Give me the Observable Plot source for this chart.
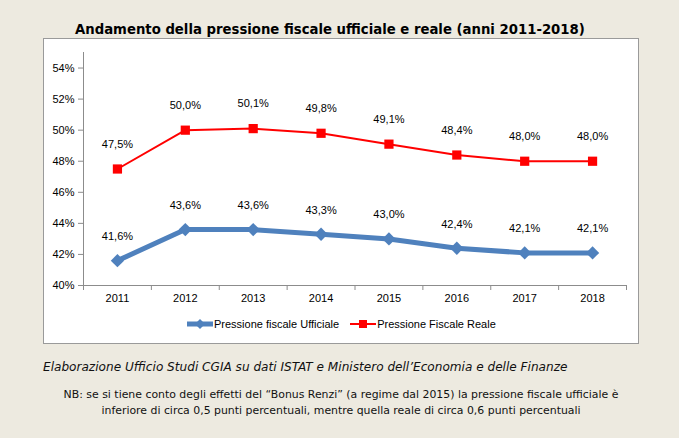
<!DOCTYPE html>
<html>
<head>
<meta charset="utf-8">
<script src="https://cdn.jsdelivr.net/npm/d3@7"></script>
<script src="https://cdn.jsdelivr.net/npm/@observablehq/plot@0.6"></script>
<style>
  html, body { margin: 0; padding: 0; }
  body { width: 679px; height: 438px; background: #edeae0; position: relative; overflow: hidden; font-family: "DejaVu Sans", sans-serif; }
  #title { position: absolute; left: 75px; top: 22px; font-family: "DejaVu Sans", sans-serif; font-weight: bold; font-size: 13.25px; color: #000; white-space: nowrap; }
  #box { position: absolute; left: 43px; top: 38px; width: 596px; height: 306px; box-sizing: border-box; background: #fff; border: 1px solid #9a9a9a; }
  #chart { position: absolute; left: 43px; top: 38px; }
  #legend { position: absolute; top: 318px; left: 187px; font-family: "Liberation Sans", sans-serif; font-size: 11px; color: #000; white-space: nowrap; display: flex; align-items: center; }
  #legend .item { display: flex; align-items: center; }
  #legend svg { display: block; }
  #source { position: absolute; left: 43px; top: 360px; font-family: "DejaVu Sans", sans-serif; font-style: italic; font-size: 12.1px; color: #111; white-space: nowrap; }
  #note { position: absolute; left: 43px; width: 596px; top: 387px; text-align: center; font-family: "DejaVu Sans", sans-serif; font-size: 10.9px; line-height: 16px; color: #111; }
</style>
</head>
<body>
<div id="title">Andamento della pressione fiscale ufficiale e reale (anni 2011-2018)</div>
<div id="box"></div>
<div id="chart"></div>
<div id="legend"></div>
<div id="source">Elaborazione Ufficio Studi CGIA su dati ISTAT e Ministero dell’Economia e delle Finanze</div>
<div id="note">NB: se si tiene conto degli effetti del “Bonus Renzi” (a regime dal 2015) la pressione fiscale ufficiale è<br>inferiore di circa 0,5 punti percentuali, mentre quella reale di circa 0,6 punti percentuali</div>
<script>
const years = [2011, 2012, 2013, 2014, 2015, 2016, 2017, 2018];
const ufficiale = [41.6, 43.6, 43.6, 43.3, 43.0, 42.4, 42.1, 42.1];
const reale = [47.5, 50.0, 50.1, 49.8, 49.1, 48.4, 48.0, 48.0];
const yTicks = [40, 42, 44, 46, 48, 50, 52, 54];
const seriesNames = ["Pressione fiscale Ufficiale", "Pressione Fiscale Reale"];
const seriesColors = ["#4f81bd", "#ff0000"];

const rows = years.map((y, i) => ({year: y, u: ufficiale[i], r: reale[i]}));
const boundaries = [years[0] - 0.5, ...years.map(y => y + 0.5)];
const pct = v => v.toFixed(1).replace(".", ",") + "%";

const chart = Plot.plot({
  width: 596,
  height: 272,
  marginLeft: 40,
  marginRight: 13,
  marginTop: 14,
  marginBottom: 25,
  style: {background: "transparent", fontFamily: "Liberation Sans, sans-serif", fontSize: "11px", color: "#000"},
  x: {domain: [years[0] - 0.5, years[years.length - 1] + 0.5]},
  y: {domain: [40, 55]},
  marks: [
    Plot.ruleY([40], {stroke: "#8c8c8c"}),
    Plot.ruleX([years[0] - 0.5], {stroke: "#8c8c8c"}),
    Plot.axisY(yTicks, {tickSize: 5, tickPadding: 4, tickFormat: d => d + "%", stroke: "#8c8c8c", fill: "#000", label: null}),
    Plot.axisX(boundaries, {tickSize: 5, tickFormat: () => "", stroke: "#8c8c8c", label: null}),
    Plot.axisX(years, {tickSize: 0, tickPadding: 9, tickFormat: d => String(d), fill: "#000", label: null}),
    Plot.line(rows, {x: "year", y: "r", stroke: seriesColors[1], strokeWidth: 2}),
    Plot.dot(rows, {x: "year", y: "r", symbol: "square", fill: seriesColors[1], r: 5.2}),
    Plot.line(rows, {x: "year", y: "u", stroke: seriesColors[0], strokeWidth: 5}),
    Plot.dot(rows, {x: "year", y: "u", symbol: "diamond2", fill: seriesColors[0], r: 6}),
    Plot.text(rows, {x: "year", y: "r", text: d => pct(d.r), dy: -25, fill: "#000"}),
    Plot.text(rows, {x: "year", y: "u", text: d => pct(d.u), dy: -24, fill: "#000"})
  ]
});
document.getElementById("chart").appendChild(chart);

// legend
const legend = document.getElementById("legend");
seriesNames.forEach((name, i) => {
  const item = document.createElement("div");
  item.className = "item";
  if (i > 0) item.style.marginLeft = "11px";
  const sw = d3.create("svg").attr("width", 26).attr("height", 12);
  sw.append("line").attr("x1", 0).attr("x2", 26).attr("y1", 6).attr("y2", 6)
    .attr("stroke", seriesColors[i]).attr("stroke-width", i === 0 ? 5 : 2);
  if (i === 0) {
    sw.append("path").attr("d", "M13,1L18,6L13,11L8,6Z").attr("fill", seriesColors[i]);
  } else {
    sw.append("rect").attr("x", 9).attr("y", 2).attr("width", 8).attr("height", 8).attr("fill", seriesColors[i]);
  }
  item.appendChild(sw.node());
  const t = document.createElement("span");
  t.style.marginLeft = "1px";
  t.textContent = name;
  item.appendChild(t);
  legend.appendChild(item);
});
</script>
</body>
</html>
